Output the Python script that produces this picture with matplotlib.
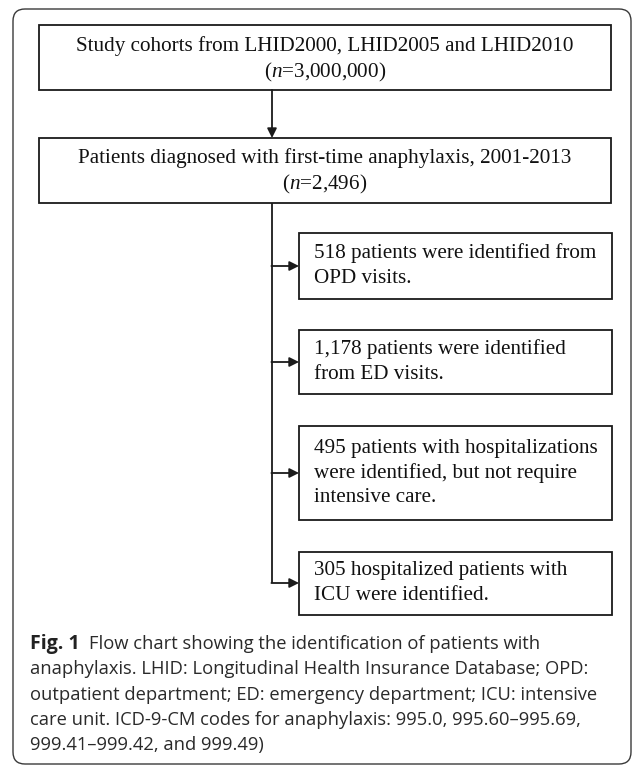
import matplotlib
matplotlib.use("Agg")
import matplotlib.pyplot as plt
from matplotlib.patches import Rectangle, FancyBboxPatch

# Text content of the flow chart
top_lines = ["Study cohorts from LHID2000, LHID2005 and LHID2010", "($n$=3,000,000)"]
mid_lines = ["Patients diagnosed with first-time anaphylaxis, 2001-2013", "($n$=2,496)"]
branch_texts = [
    ["518 patients were identified from", "OPD visits."],
    ["1,178 patients were identified", "from ED visits."],
    ["495 patients with hospitalizations", "were identified, but not require", "intensive care."],
    ["305 hospitalized patients with", "ICU were identified."],
]
caption_bold = "Fig. 1"
caption_lines = [
    "Flow chart showing the identification of patients with",
    "anaphylaxis. LHID: Longitudinal Health Insurance Database; OPD:",
    "outpatient department; ED: emergency department; ICU: intensive",
    "care unit. ICD-9-CM codes for anaphylaxis: 995.0, 995.60\u2013995.69,",
    "999.41\u2013999.42, and 999.49)",
]

plt.rcParams['mathtext.fontset'] = 'custom'
plt.rcParams['mathtext.rm'] = 'Liberation Serif'
plt.rcParams['mathtext.it'] = 'Liberation Serif:italic'

W, H = 633, 768
fig = plt.figure(figsize=(W / 100, H / 100), dpi=100)
ax = fig.add_axes([0, 0, 1, 1])
ax.set_xlim(0, W)
ax.set_ylim(H, 0)
ax.axis('off')

edge = '#1a1a1a'
serif = 'Liberation Serif'
fs = 15.2

# outer rounded frame
ax.add_patch(FancyBboxPatch((13, 9), 618, 755, boxstyle="round,pad=0,rounding_size=12",
                            fill=False, ec='#3a3a3a', lw=1.0))

# main boxes
def centered_box(x0, y0, w, h, lines, ys):
    ax.add_patch(Rectangle((x0, y0), w, h, fill=False, ec=edge, lw=1.3))
    for line, y in zip(lines, ys):
        ax.text(x0 + w / 2, y, line, ha='center', va='center', fontsize=fs, family=serif, color='#111')

centered_box(39, 25, 572, 65, top_lines, [46, 72])
centered_box(39, 138, 572, 65, mid_lines, [158, 184])

stem_x = 272
ax.annotate('', xy=(stem_x, 138), xytext=(stem_x, 90),
            arrowprops=dict(arrowstyle='-|>', color=edge, lw=1.3, mutation_scale=14, shrinkA=0, shrinkB=0))

# branch boxes
bx0, bx1 = 299, 612
tops = [233, 330, 426, 552]
bottoms = [299, 394, 520, 615]
ax.plot([stem_x, stem_x], [203, 583], color=edge, lw=1.3, solid_capstyle='butt')
for lines, t, b in zip(branch_texts, tops, bottoms):
    ax.add_patch(Rectangle((bx0, t), bx1 - bx0, b - t, fill=False, ec=edge, lw=1.3))
    n = len(lines)
    yc = (t + b) / 2
    for i, line in enumerate(lines):
        y = yc + (i - (n - 1) / 2) * 25
        ax.text(bx0 + 15, y, line, ha='left', va='center', fontsize=fs, family=serif, color='#111')
    ymid = yc if b < 600 else 583
    ax.annotate('', xy=(bx0, ymid), xytext=(stem_x - 0.6, ymid),
                arrowprops=dict(arrowstyle='-|>', color=edge, lw=1.3, mutation_scale=14, shrinkA=0, shrinkB=0))

# caption
cap_fs = 13.2
sans = 'Open Sans'
cap_x = 30
cap_ys = [644 + 25.3 * i for i in range(len(caption_lines))]
t0 = ax.text(cap_x, cap_ys[0], caption_bold, ha='left', va='center', fontsize=cap_fs + 0.9,
             family=sans, weight='bold', color='#222')
fig.canvas.draw()
bb = t0.get_window_extent()
x_after = bb.x1 + 9
ax.text(x_after, cap_ys[0], caption_lines[0], ha='left', va='center', fontsize=cap_fs,
        family=sans, color='#2a2a2a')
for line, y in zip(caption_lines[1:], cap_ys[1:]):
    ax.text(cap_x, y, line, ha='left', va='center', fontsize=cap_fs, family=sans, color='#2a2a2a')

fig.savefig('out.png', dpi=100)
